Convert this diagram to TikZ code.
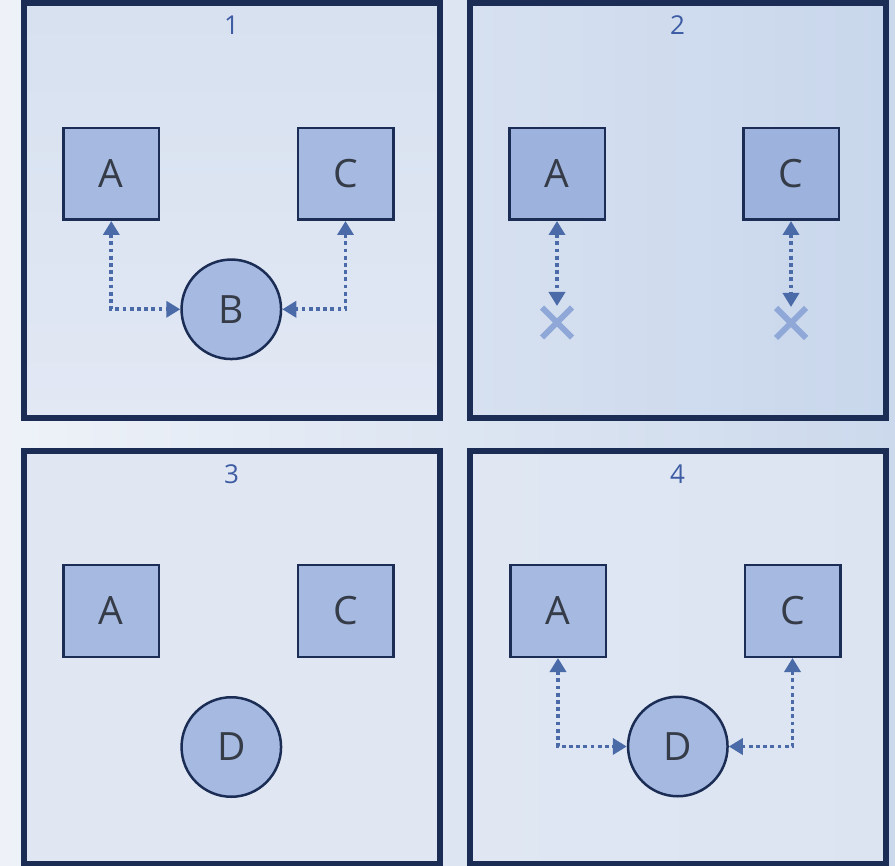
\documentclass[tikz,border=0pt]{standalone}
\usepackage{fontspec}
\setmainfont{Open Sans}
\usetikzlibrary{arrows.meta,calc}
\definecolor{frame}{HTML}{1B2D55}
\definecolor{boxfill}{HTML}{A5B9E1}
\definecolor{boxfillb}{HTML}{9DB2DD}
\definecolor{arrowc}{HTML}{4A6AA8}
\definecolor{xcol}{HTML}{8FA8D8}
\definecolor{numc}{HTML}{3D5CA3}
\definecolor{letc}{HTML}{353C48}
\definecolor{panelA}{HTML}{DCE4F2}
\definecolor{panelAt}{HTML}{D7E1F0}
\definecolor{panelAb}{HTML}{E2E8F4}
\definecolor{panelB}{HTML}{D6E0F0}
\definecolor{panelBr}{HTML}{C9D7EC}
\definecolor{panelC}{HTML}{E0E7F3}
\definecolor{bgl}{HTML}{EEF2F8}
\definecolor{bgr}{HTML}{CCD9EC}
\tikzset{
  panel/.style={draw=frame, line width=6pt},
  sqbox/.style={draw=frame, line width=2.5pt, fill=boxfill, minimum width=95.5pt, minimum height=91.5pt, inner sep=0pt, font=\fontsize{39}{40}\selectfont, text=letc},
  circbox/.style={circle, draw=frame, line width=2.5pt, fill=boxfill, minimum size=99.5pt, inner sep=0pt, font=\fontsize{39}{40}\selectfont, text=letc},
  numlabel/.style={font=\fontsize{26}{27}\selectfont, text=numc, inner sep=0pt},
  link/.style={draw=arrowc, line width=3.8pt, dash pattern=on 3.8pt off 3.4pt, {Triangle[width=16pt,length=14pt]}-{Triangle[width=16pt,length=14pt]}},
  xmark/.style={draw=xcol, line width=6pt}
}
\begin{document}
\begin{tikzpicture}[x=1pt,y=-1pt]
\useasboundingbox (0,0) rectangle (895,866);
\shade[left color=bgl, right color=bgr] (0,0) rectangle (895,866);
% panels
\shade[top color=panelAt, bottom color=panelAb] (24,3.5) rectangle (439.5,418);
\shade[left color=panelB, right color=panelBr] (470,3.5) rectangle (885.5,418);
\fill[panelC] (24,451.5) rectangle (439.5,864);
\shade[left color=panelC, right color=panelA] (470,451.5) rectangle (885.5,864);
\draw[panel] (24,3.5) rectangle (439.5,418);
\draw[panel] (470,3.5) rectangle (885.5,418);
\draw[panel] (24,451.5) rectangle (439.5,864);
\draw[panel] (470,451.5) rectangle (885.5,864);
% panel 1
\node[numlabel] (n1) at (231.5,25) {1};
\node[sqbox] (A1) at (111.3,174) {A};
\node[sqbox] (C1) at (345.5,174) {C};
\node[circbox] (B1) at (231.3,309.3) {B};
\draw[link] (A1.south) |- (B1.west);
\draw[link] (C1.south) |- (B1.east);
% panel 2
\node[numlabel] (n2) at (677.5,25) {2};
\node[sqbox, fill=boxfillb] (A2) at (557,174) {A};
\node[sqbox, fill=boxfillb] (C2) at (791,174) {C};
\coordinate (xa) at (557,322.5);
\coordinate (xc) at (791,323);
\coordinate (ea) at (557,306);
\coordinate (ec) at (791,307);
\draw[link] (A2.south) -- (ea);
\draw[link] (C2.south) -- (ec);
\draw[xmark] ($(xa)+(-15,-15)$) -- ($(xa)+(15,15)$) ($(xa)+(-15,15)$) -- ($(xa)+(15,-15)$);
\draw[xmark] ($(xc)+(-15,-15)$) -- ($(xc)+(15,15)$) ($(xc)+(-15,15)$) -- ($(xc)+(15,-15)$);
% panel 3
\node[numlabel] (n3) at (231.5,474) {3};
\node[sqbox] (A3) at (111.3,611) {A};
\node[sqbox] (C3) at (345.5,611) {C};
\node[circbox] (D3) at (231.3,747) {D};
% panel 4
\node[numlabel] (n4) at (677.5,474) {4};
\node[sqbox] (A4) at (558,611) {A};
\node[sqbox] (C4) at (792.5,611) {C};
\node[circbox] (D4) at (677.8,746.5) {D};
\draw[link] (A4.south) |- (D4.west);
\draw[link] (C4.south) |- (D4.east);
\end{tikzpicture}
\end{document}
